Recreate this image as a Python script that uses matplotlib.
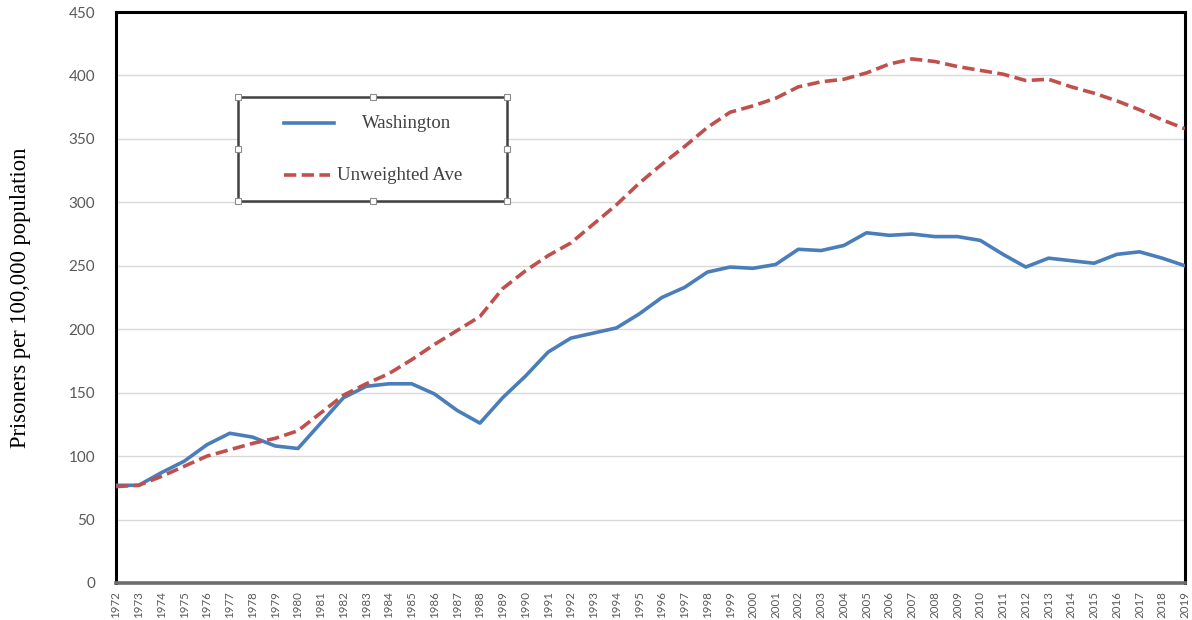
import matplotlib
matplotlib.use("Agg")
import matplotlib.pyplot as plt
from matplotlib.patches import Rectangle
from matplotlib.lines import Line2D

years = list(range(1972, 2020))
washington = [77, 77, 87, 96, 109, 118, 115, 108, 106, 126,
              146, 155, 157, 157, 149, 136, 126, 146, 163, 182,
              193, 197, 201, 212, 225, 233, 245, 249, 248, 251,
              263, 262, 266, 276, 274, 275, 273, 273, 270, 259,
              249, 256, 254, 252, 259, 261, 256, 250]
unweighted_ave = [76, 77, 84, 92, 100, 105, 110, 114, 120, 134,
                  148, 157, 165, 176, 188, 199, 210, 232, 246, 258,
                  268, 283, 298, 315, 330, 344, 359, 371, 376, 382,
                  391, 395, 397, 402, 409, 413, 411, 407, 404, 401,
                  396, 397, 391, 386, 380, 373, 365, 358]
y_ticks = [0, 50, 100, 150, 200, 250, 300, 350, 400, 450]

W, H = 1192, 620
BLUE = "#4a7ebb"
RED = "#c0504d"
TICK_GRAY = "#595959"

fig = plt.figure(figsize=(W / 100, H / 100), dpi=100)
ax = fig.add_axes([116 / W, 1 - 583 / H, (1185 - 116) / W, (583 - 12) / H])


def px(x, y):
    # pixel position in the reference -> figure fraction
    return x / W, 1 - y / H


ax.plot(years, washington, color=BLUE, lw=2.6, solid_capstyle="round", zorder=3)
ax.plot(years, unweighted_ave, color=RED, lw=2.6, dashes=(3.4, 1.5), zorder=3)

ax.set_xlim(1972, 2019)
ax.set_ylim(0, 450)
ax.set_xticks(years)
ax.set_xticklabels([str(y) for y in years], rotation=90, fontsize=8.3,
                   family="Lato", color=TICK_GRAY)
ax.set_yticks(y_ticks)
ax.set_yticklabels([str(v) for v in y_ticks], fontsize=11, family="Lato",
                   color=TICK_GRAY)
ax.tick_params(axis="both", length=0)
ax.tick_params(axis="y", pad=15)
ax.tick_params(axis="x", pad=6)
ax.grid(axis="y", color="#d9d9d9", lw=1)
ax.set_axisbelow(True)

for side in ["left", "right", "top"]:
    ax.spines[side].set_color("black")
    ax.spines[side].set_linewidth(2.2)
ax.spines["bottom"].set_color("#6e6e6e")
ax.spines["bottom"].set_linewidth(2.6)

ax.set_ylabel("Prisoners per 100,000 population", family="Liberation Serif",
              fontsize=16.3, labelpad=27)

# legend box drawn like a selected Excel text box
x0, y0 = px(238, 201)
x1, y1 = px(507, 97)
fig.patches.append(Rectangle((x0, y0), x1 - x0, y1 - y0, transform=fig.transFigure,
                             facecolor="white", edgecolor="#404040", lw=1.8, zorder=5))
for hx, hy in [(238, 97), (373, 97), (507, 97), (238, 149), (507, 149),
               (238, 201), (373, 201), (507, 201)]:
    fx, fy = px(hx, hy)
    fig.add_artist(Line2D([fx], [fy], marker="s", markersize=4.5,
                          markerfacecolor="white", markeredgecolor="#8c8c8c",
                          markeredgewidth=0.8, transform=fig.transFigure, zorder=6))

lx0, ly = px(284, 123)
lx1, _ = px(334, 123)
fig.add_artist(Line2D([lx0, lx1], [ly, ly], color=BLUE, lw=2.6,
                      transform=fig.transFigure, zorder=6))
tx, ty = px(407, 123)
fig.text(tx, ty, "Washington", family="Liberation Serif", fontsize=13.5,
         color="#404040", ha="center", va="center", zorder=6)

lx0, ly = px(284, 175)
lx1, _ = px(330, 175)
fig.add_artist(Line2D([lx0, lx1], [ly, ly], color=RED, lw=2.6, dashes=(3.4, 1.5),
                      transform=fig.transFigure, zorder=6))
tx, ty = px(337, 175)
fig.text(tx, ty, "Unweighted Ave", family="Liberation Serif", fontsize=13.5,
         color="#404040", ha="left", va="center", zorder=6)

fig.savefig("out.png", dpi=100)
